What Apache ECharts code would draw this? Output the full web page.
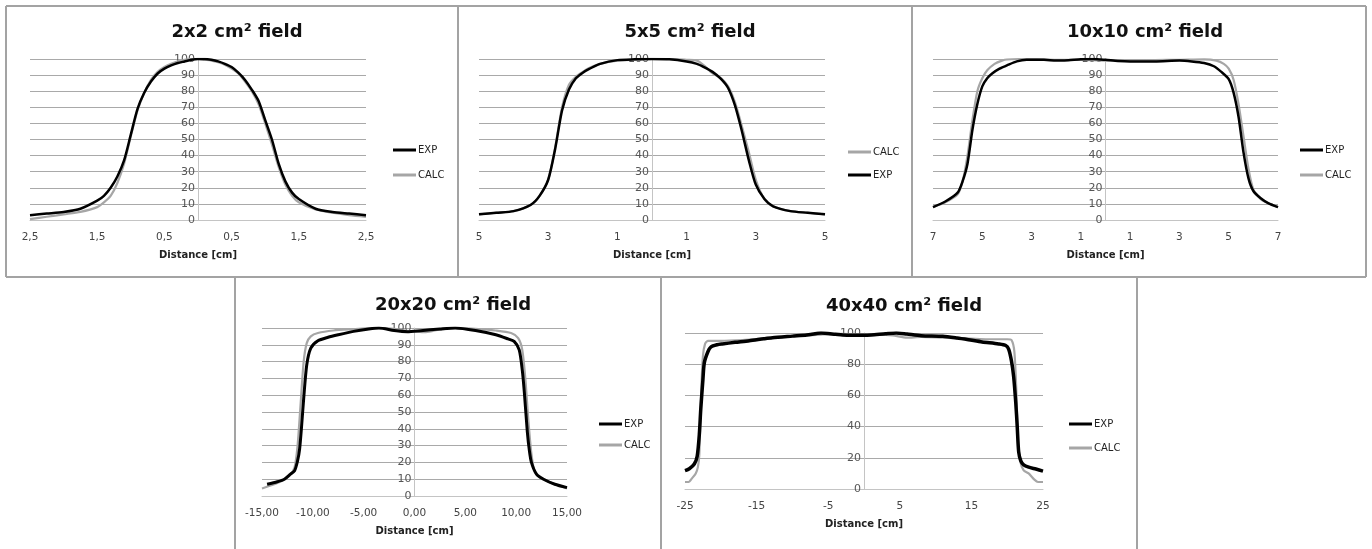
<!DOCTYPE html>
<html>
<head>
<meta charset="utf-8">
<script src="https://cdn.jsdelivr.net/npm/echarts@6/dist/echarts.min.js"></script>
<style>
html,body{margin:0;padding:0;background:#fff;}
#chart{width:1372px;height:549px;}
</style>
</head>
<body>
<div id="chart"></div>
<script>
// ---------------- DATA ----------------
const titles = ['2x2 cm\u00B2 field', '5x5 cm\u00B2 field', '10x10 cm\u00B2 field', '20x20 cm\u00B2 field', '40x40 cm\u00B2 field'];
const xAxisName = 'Distance [cm]';
const seriesNames = ['EXP', 'CALC'];
const legendOrder = [['EXP', 'CALC'], ['CALC', 'EXP'], ['EXP', 'CALC'], ['EXP', 'CALC'], ['EXP', 'CALC']];
const xMin = [-2.5, -5, -7, -15, -25];
const xMax = [2.5, 5, 7, 15, 25];
const xStep = [1, 2, 2, 5, 10];
const yStep = [10, 10, 10, 10, 20];

// 2x2 field: [distance cm, relative dose %]
const exp2 = [[-2.5,3],[-2.25,4],[-2,5],[-1.75,7],[-1.5,12],[-1.4,15],[-1.3,20],[-1.2,27],[-1.1,37],[-1,53],[-0.9,69],[-0.8,79],[-0.7,86],[-0.6,91],[-0.5,94],[-0.4,96],[-0.3,97.5],[-0.2,98.5],[-0.1,99.5],[0,100],[0.1,100],[0.2,99.5],[0.3,98.5],[0.4,97],[0.5,95],[0.6,91.5],[0.7,87],[0.8,81],[0.9,74],[1,62],[1.1,50],[1.2,35],[1.3,24],[1.4,17],[1.5,13],[1.75,7],[2,5],[2.25,4],[2.5,3]];
const calc2 = [[-2.5,0.5],[-2.25,2],[-2,3.5],[-1.75,5],[-1.5,8],[-1.4,11],[-1.3,15],[-1.2,23],[-1.1,35],[-1,52],[-0.9,68],[-0.8,79],[-0.7,87],[-0.6,92],[-0.5,95],[-0.4,97],[-0.3,98.5],[-0.2,99.5],[-0.1,100],[0,100],[0.1,99.5],[0.2,99],[0.3,98],[0.4,96.5],[0.5,94],[0.6,91],[0.7,86],[0.8,80],[0.9,72],[1,60],[1.1,47],[1.2,33],[1.3,22],[1.4,15],[1.5,11],[1.75,6.5],[2,4.5],[2.25,3],[2.5,2]];

// 5x5 field
const exp5 = [[-5,3.5],[-4.5,4.5],[-4,5.5],[-3.5,9.5],[-3.25,15],[-3,25],[-2.8,44],[-2.6,68],[-2.4,81],[-2.2,88],[-2,91.5],[-1.8,94],[-1.5,97],[-1,99.3],[-0.5,99.8],[0,100],[0.5,99.8],[1,98.5],[1.3,97],[1.5,95],[1.75,92],[2,87.5],[2.2,82],[2.4,71],[2.6,55],[2.8,37],[3,22],[3.25,13],[3.5,8.5],[4,5.5],[4.5,4.5],[5,3.5]];
const calc5 = [[-5,3.5],[-4.5,4.5],[-4,5.5],[-3.5,9.5],[-3.25,15],[-3,25],[-2.8,45],[-2.6,70],[-2.4,84],[-2.2,89],[-2,92],[-1.8,94.5],[-1.5,97],[-1,99],[-0.5,99.5],[0,100],[0.5,100],[1,99.5],[1.3,99],[1.5,96],[1.75,91],[2,88],[2.2,83],[2.4,73],[2.6,58],[2.8,42],[3,25],[3.25,13],[3.5,8.5],[4,5.5],[4.5,4.5],[5,3.5]];

// 10x10 field
const exp10 = [[-7,8],[-6.5,11.5],[-6,17],[-5.8,24],[-5.6,35],[-5.4,56],[-5.2,72],[-5,83],[-4.8,88],[-4.6,91],[-4.3,94],[-4,96],[-3.6,98.5],[-3.2,99.5],[-2.5,99.5],[-2,99],[-1.5,99.3],[-1,99.8],[-0.5,100],[0,99.5],[0.5,98.8],[1,98.5],[2,98.5],[3,99],[3.5,98.5],[4,97.5],[4.4,95.5],[4.7,92],[5,87.5],[5.2,79],[5.4,64],[5.6,42],[5.8,26],[6,18],[6.3,13.5],[6.6,10.5],[7,8]];
const calc10 = [[-7,8],[-6.5,11],[-6,16],[-5.8,24],[-5.6,40],[-5.4,62],[-5.2,80],[-5,88],[-4.8,93],[-4.5,97],[-4.2,99],[-4,99.7],[-3,100],[-2,99.5],[-1,99.5],[0,99],[1,99],[2,99.3],[3,99.5],[4,99.8],[4.5,99],[4.8,97],[5,94],[5.2,87],[5.4,72],[5.6,52],[5.8,32],[6,19],[6.3,13],[6.6,10.5],[7,8]];

// 20x20 field
const exp20 = [[-14.5,7],[-13.5,8.5],[-12.8,10],[-12.2,13],[-11.8,15],[-11.5,21],[-11.3,28],[-11.1,42],[-10.9,58],[-10.6,78],[-10.2,88],[-9.5,92.4],[-8.5,94.5],[-7.5,96],[-6,98],[-4.5,99.4],[-3.5,100],[-2,98.5],[-0.7,97.8],[0.6,98.4],[2.5,99.4],[4,100],[6,98.5],[8,96],[9.2,93.5],[9.8,92],[10.3,87],[10.6,75],[10.8,62],[11.1,38],[11.3,27],[11.5,20],[12,13],[12.7,10],[13.8,7],[15,5]];
const calc20 = [[-15,4.5],[-14,6.5],[-13,9],[-12.3,12],[-11.8,17],[-11.5,30],[-11.2,55],[-10.9,80],[-10.6,91],[-10.2,95],[-9.5,97],[-8,98.5],[-6,99.3],[-4,100],[-2,99.5],[-1,98.5],[0,98],[1,97.5],[2,98.5],[3,99.5],[4,100],[6,99.5],[8,98.5],[9.5,97],[10.2,94],[10.6,87],[10.9,70],[11.2,45],[11.5,25],[11.8,15],[12.3,11],[13,9],[14,6.5],[15,4.5]];

// 40x40 field
const exp40 = [[-25,11.8],[-24.4,13],[-23.7,16],[-23.3,21],[-23,35],[-22.8,51],[-22.5,70],[-22.3,81],[-21.8,88],[-21.4,91],[-20.5,92.5],[-19.8,93],[-18,94],[-16,95],[-14,96.3],[-12.8,97],[-10,98],[-8,98.7],[-6,100],[-4,99.2],[-3,98.7],[0,98.5],[1,98.7],[3,99.5],[4.5,100],[6,99.3],[8,98.3],[11,97.9],[13,96.8],[14.6,95.7],[16.5,94.3],[18.8,93],[19.8,92],[20.2,89.7],[20.6,82],[20.9,72],[21.2,55],[21.4,40],[21.6,24],[21.9,18],[22.3,15.5],[23,14],[24,12.8],[25,11.5]];
const calc40 = [[-25,4.5],[-24.5,4.5],[-24,7],[-23.5,10],[-23.2,14],[-23,22],[-22.8,55],[-22.5,85],[-22.2,93],[-21.8,95],[-20,95],[-17,95.5],[-14,96.5],[-10,98],[-6,99],[-3,99.5],[0,99],[2,99],[4,98.5],[6,97],[8,97.5],[11,97],[14,96.5],[17,96],[20,96],[20.6,95.5],[21,88],[21.3,60],[21.5,30],[21.8,18],[22.3,12],[23,10],[23.8,6],[24.3,4.5],[25,4.5]];

const expData = [exp2, exp5, exp10, exp20, exp40];
const calcData = [calc2, calc5, calc10, calc20, calc40];

// ---------------- LAYOUT / STYLE ----------------
const grids = [
  {left: 30, top: 59, width: 336, height: 161},
  {left: 479, top: 59, width: 346, height: 161},
  {left: 933, top: 59, width: 345, height: 161},
  {left: 262, top: 328, width: 305, height: 168},
  {left: 685, top: 333, width: 358, height: 156}
];
const titlePos = [[232, 18], [685, 18], [1140, 18], [448, 291], [899, 292]];
const legendPos = [[393, 145, 15], [848, 147, 13], [1300, 145, 15], [599, 419, 11], [1069, 419, 14]];
const expWidth = [2.5, 2.5, 2.5, 3, 3.5];
const FONT = 'DejaVu Sans';
const EXP_COLOR = '#000000';
const CALC_COLOR = '#a6a6a6';

function fmtX(i, v) {
  if (i === 0) return Math.abs(v).toFixed(1).replace('.', ',');
  if (i === 1 || i === 2) return String(Math.abs(Math.round(v)));
  if (i === 3) return v.toFixed(2).replace('.', ',');
  return String(Math.round(v));
}

const option = {
  backgroundColor: '#ffffff',
  animation: false,
  title: [],
  legend: [],
  grid: [],
  xAxis: [],
  yAxis: [],
  series: [],
  graphic: []
};

for (let i = 0; i < 5; i++) {
  // vertical axis is drawn where distance = 0 (Excel "crosses at 0")
  const zeroShift = grids[i].width * (0 - xMin[i]) / (xMax[i] - xMin[i]);
  option.title.push({
    text: titles[i], left: titlePos[i][0], top: titlePos[i][1], textAlign: 'center',
    textStyle: {fontFamily: FONT, fontWeight: 'bold', fontSize: 18, color: '#111'}
  });
  option.grid.push(Object.assign({containLabel: false}, grids[i]));
  option.xAxis.push({
    type: 'value', gridIndex: i, min: xMin[i], max: xMax[i], interval: xStep[i],
    name: xAxisName, nameLocation: 'middle', nameGap: 30,
    nameTextStyle: {fontFamily: FONT, fontWeight: 'bold', fontSize: 10, color: '#222'},
    axisLine: {show: true, onZero: false, lineStyle: {color: '#c4c4c4', width: 1}},
    axisTick: {show: false},
    splitLine: {show: false},
    axisLabel: {margin: 12, fontFamily: FONT, fontSize: 10.5, color: '#444',
      formatter: (function (k) { return function (v) { return fmtX(k, v); }; })(i)}
  });
  option.yAxis.push({
    type: 'value', gridIndex: i, min: 0, max: 100, interval: yStep[i],
    position: 'left', offset: -zeroShift,
    axisLine: {show: true, onZero: false, lineStyle: {color: '#c4c4c4', width: 1}},
    axisTick: {show: false},
    splitLine: {show: true, lineStyle: {color: '#a9a9a9', width: 1}},
    axisLabel: {margin: 3, fontFamily: FONT, fontSize: 11, color: '#555'}
  });
  option.series.push({
    name: 'CALC', type: 'line', xAxisIndex: i, yAxisIndex: i, data: calcData[i],
    showSymbol: false, symbol: 'none', smooth: 0.25, color: CALC_COLOR,
    lineStyle: {color: CALC_COLOR, width: 2.2, join: 'round'}, z: 2
  });
  option.series.push({
    name: 'EXP', type: 'line', xAxisIndex: i, yAxisIndex: i, data: expData[i],
    showSymbol: false, symbol: 'none', smooth: 0.25, color: EXP_COLOR,
    lineStyle: {color: EXP_COLOR, width: expWidth[i], join: 'round'}, z: 3
  });
  option.legend.push({
    data: legendOrder[i], orient: 'vertical', left: legendPos[i][0], top: legendPos[i][1],
    itemGap: legendPos[i][2], itemWidth: 23, itemHeight: 3, icon: 'rect', padding: 0,
    selectedMode: false,
    textStyle: {fontFamily: FONT, fontSize: 10, color: '#222', padding: [0, 0, 0, -3]}
  });
}

// panel borders
const B = {stroke: '#a3a3a3', lineWidth: 2};
const borderLines = [
  [6, 6, 1366, 6], [6, 6, 6, 277], [6, 277, 1366, 277], [1366, 6, 1366, 277],
  [458, 6, 458, 277], [912, 6, 912, 277],
  [235, 277, 235, 549], [661, 277, 661, 549], [1137, 277, 1137, 549]
];
borderLines.forEach(function (l) {
  option.graphic.push({type: 'line', shape: {x1: l[0], y1: l[1], x2: l[2], y2: l[3]}, style: B, silent: true, z: 0});
});

const chart = echarts.init(document.getElementById('chart'), null, {renderer: 'canvas'});
chart.setOption(option);
</script>
</body>
</html>
